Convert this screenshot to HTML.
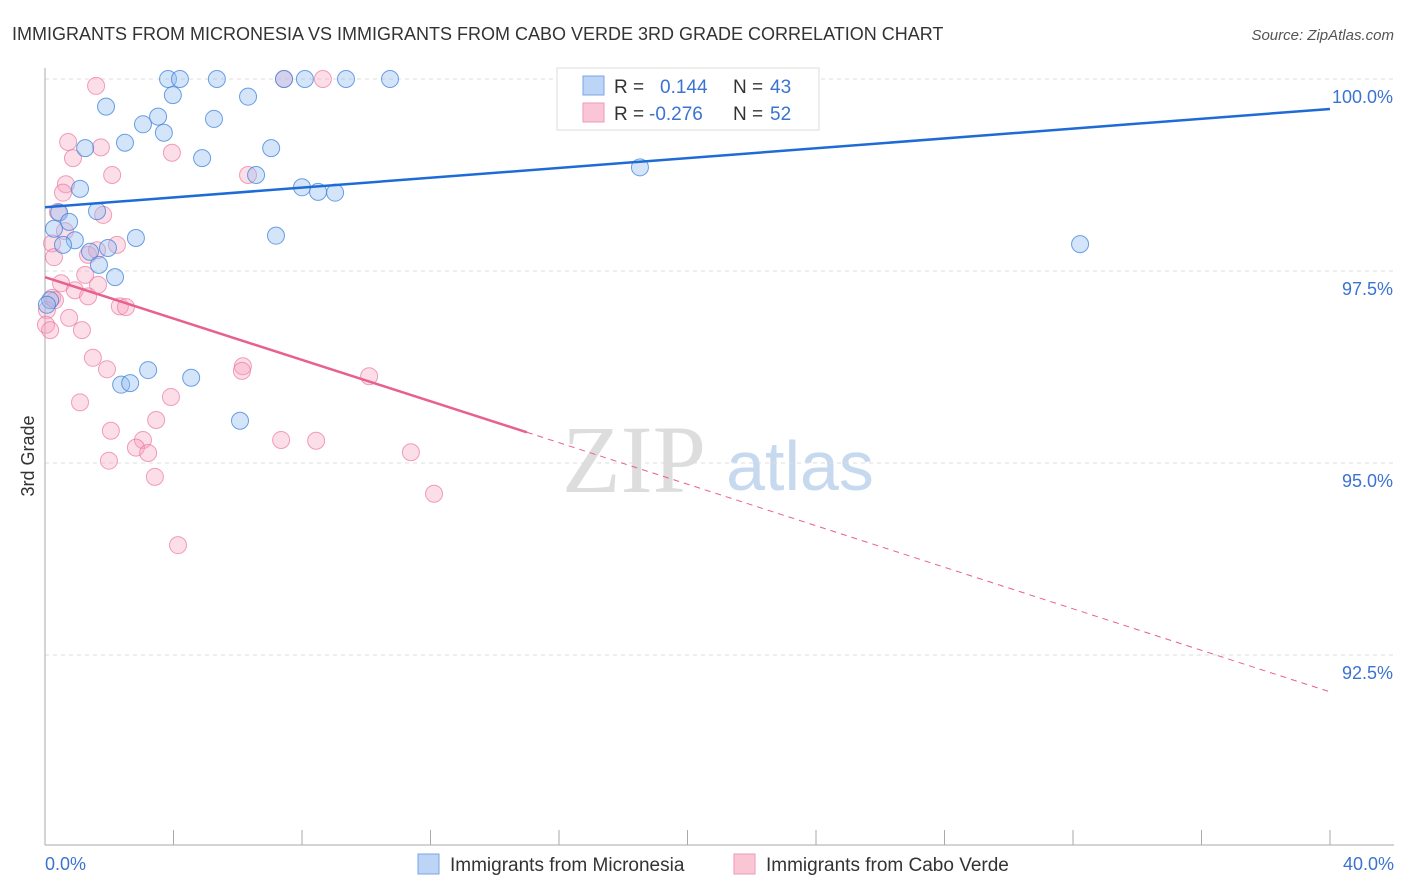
<!DOCTYPE html>
<html><head><meta charset="utf-8"><style>
body{margin:0;background:#fff;font-family:"Liberation Sans",sans-serif;}
svg{display:block}
</style></head><body>
<svg id="c" width="1406" height="892">
<text x="12" y="40" font-size="18" fill="#333">IMMIGRANTS FROM MICRONESIA VS IMMIGRANTS FROM CABO VERDE 3RD GRADE CORRELATION CHART</text>
<text x="1394" y="40" font-size="15" fill="#555" font-style="italic" text-anchor="end">Source: ZipAtlas.com</text>
<text x="34" y="456" font-size="18" fill="#333" text-anchor="middle" transform="rotate(-90 34 456)">3rd Grade</text>
<g><text x="634" y="492" font-size="96" fill="#ddd" font-family="Liberation Serif" text-anchor="middle">ZIP</text><text x="800" y="490" font-size="70" fill="#c6d9ef" text-anchor="middle">atlas</text></g>
<g id="grid"></g><g id="axes"></g><g id="pts"></g><g id="lines"></g>
<g>
<rect x="557" y="68" width="262" height="62" fill="#fff" stroke="#ddd"/>
<rect x="583" y="76" width="21" height="19" fill="#bcd4f5" stroke="#7aa6e6"/>
<rect x="583" y="103" width="21" height="19" fill="#fac6d6" stroke="#ef9ab5"/>
<text x="614" y="93" font-size="19" fill="#333">R =</text><text x="660" y="93" font-size="19" fill="#3b73d1">0.144</text>
<text x="733" y="93" font-size="19" fill="#333">N =</text><text x="770" y="93" font-size="19" fill="#3b73d1">43</text>
<text x="614" y="120" font-size="19" fill="#333">R =</text><text x="649" y="120" font-size="19" fill="#3b73d1">-0.276</text>
<text x="733" y="120" font-size="19" fill="#333">N =</text><text x="770" y="120" font-size="19" fill="#3b73d1">52</text>
</g>
<g>
<rect x="418" y="854" width="21" height="20" fill="#bcd4f5" stroke="#7aa6e6"/><text x="450" y="871" font-size="19" fill="#333">Immigrants from Micronesia</text>
<rect x="734" y="854" width="21" height="20" fill="#fac6d6" stroke="#ef9ab5"/><text x="766" y="871" font-size="19" fill="#333">Immigrants from Cabo Verde</text>
</g>
</svg>
<script>
const blueX=[3.83,4.20,5.35,7.44,8.09,9.37,10.74,1.90,3.98,6.32,3.05,3.52,3.70,5.26,2.49,1.25,4.89,7.04,6.57,1.09,8.00,8.50,9.03,1.62,0.44,0.75,0.28,0.93,0.56,1.40,1.96,2.83,7.19,1.68,2.18,0.16,0.06,3.21,2.37,2.65,4.55,6.07,18.52,32.22];
const blueY=[100,100,100,100,100,100,100,99.64,99.79,99.77,99.41,99.51,99.30,99.48,99.17,99.10,98.97,99.10,98.75,98.57,98.59,98.53,98.52,98.28,98.26,98.14,98.05,97.90,97.84,97.75,97.80,97.93,97.96,97.58,97.42,97.12,97.06,96.21,96.02,96.04,96.11,95.55,98.85,97.85];
const pinkX=[1.59,7.44,8.65,0.72,1.74,0.87,3.95,2.09,6.32,0.65,0.56,1.81,0.40,0.22,2.24,1.34,0.28,1.25,0.50,1.65,0.93,1.34,0.22,0.06,0.03,0.75,1.15,2.33,2.52,6.16,6.13,1.49,1.93,10.09,1.09,3.46,3.92,2.05,3.05,2.83,3.21,1.99,3.42,7.35,8.44,11.39,12.11,4.14,0.31,0.16,0.62,1.62];
const pinkY=[99.91,100,100,99.18,99.11,98.97,99.04,98.75,98.75,98.63,98.52,98.23,98.27,97.86,97.84,97.71,97.68,97.45,97.34,97.32,97.25,97.17,97.15,96.99,96.80,96.89,96.73,97.04,97.03,96.26,96.20,96.37,96.22,96.13,95.79,95.56,95.86,95.42,95.30,95.20,95.13,95.03,94.82,95.30,95.29,95.14,94.60,93.93,97.12,96.73,98.02,97.77];
const blueLine=[[0,98.33],[40,99.61]];
const pinkLine=[[0,97.42],[15,95.40],[40,92.02]];
const yTicks=[100,97.5,95,92.5];
const xTickLabels=["0.0%","40.0%"];
const NS="http://www.w3.org/2000/svg";
const sx=v=>45+v/40*1285, sy=v=>79+(100-v)/2.5*192;
function mk(p,t,a){const e=document.createElementNS(NS,t);for(const k in a)e.setAttribute(k,a[k]);document.getElementById(p).appendChild(e);return e;}
yTicks.forEach(t=>{
 const l=mk('grid','line',{x1:45,x2:1394,y1:sy(t),y2:sy(t),stroke:'#ddd','stroke-dasharray':'4,4'});
 
 
 const tx=mk('grid','text',{x:1393,y:sy(t)+24,'font-size':18,fill:'#3b73d1','text-anchor':'end'});
 tx.textContent=t.toFixed(1)+'%';
 
 
});
mk('axes','line',{x1:45,x2:45,y1:68,y2:845,stroke:'#aaa'});
mk('axes','line',{x1:45,x2:1394,y1:845,y2:845,stroke:'#aaa'});
for(let i=0;i<=10;i++){const x=sx(i*4);const t=mk('axes','line',{x1:x,x2:x,y1:830,y2:845,stroke:'#aaa'});}
const xl0=mk('axes','text',{x:45,y:870,'font-size':18,fill:'#3b73d1'});xl0.textContent=xTickLabels[0];


const xl1=mk('axes','text',{x:1394,y:870,'font-size':18,fill:'#3b73d1','text-anchor':'end'});xl1.textContent=xTickLabels[1];


pinkX.forEach((v,i)=>{const c=mk('pts','circle',{cx:sx(v),cy:sy(pinkY[i]),r:8.5,fill:'rgba(245,160,190,0.35)',stroke:'rgba(235,120,160,0.7)'});
 
 });
blueX.forEach((v,i)=>{const c=mk('pts','circle',{cx:sx(v),cy:sy(blueY[i]),r:8.5,fill:'rgba(150,190,240,0.4)',stroke:'rgba(60,130,220,0.75)'});
 
 });
const bl=mk('lines','line',{x1:sx(blueLine[0][0]),y1:sy(blueLine[0][1]),x2:sx(blueLine[1][0]),y2:sy(blueLine[1][1]),stroke:'#1f6bd6','stroke-width':2.5});


const pl=mk('lines','line',{x1:sx(pinkLine[0][0]),y1:sy(pinkLine[0][1]),x2:sx(pinkLine[1][0]),y2:sy(pinkLine[1][1]),stroke:'#e8608d','stroke-width':2.5});


const pd=mk('lines','line',{x1:sx(pinkLine[1][0]),y1:sy(pinkLine[1][1]),x2:sx(pinkLine[2][0]),y2:sy(pinkLine[2][1]),stroke:'#e8608d','stroke-width':1,'stroke-dasharray':'6,5'});


</script>
</body></html>
